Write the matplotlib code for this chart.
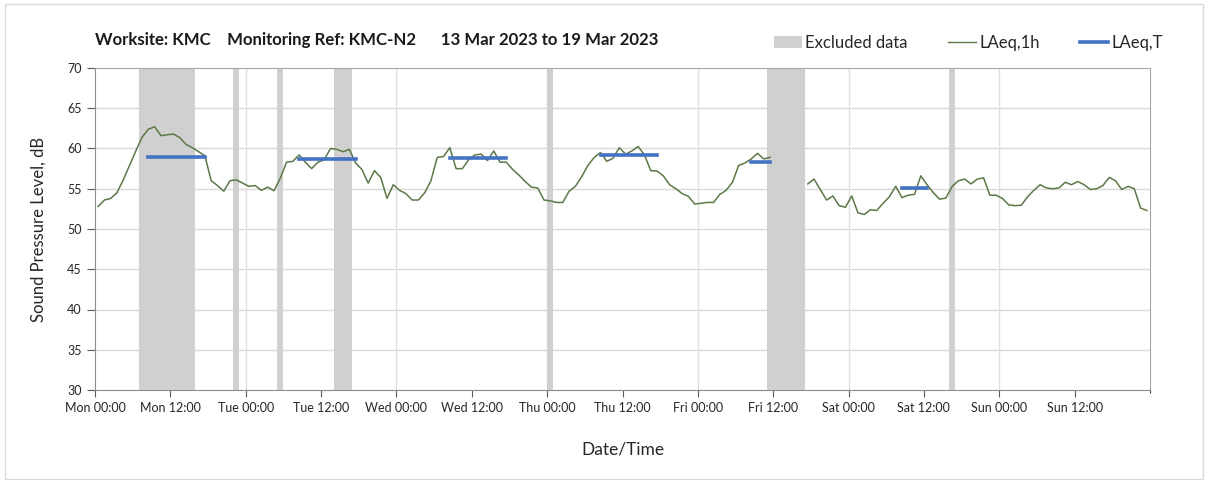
import numpy as np
import matplotlib.pyplot as plt
from matplotlib.patches import Patch, Rectangle
from matplotlib.lines import Line2D

plt.rcParams['font.family'] = ['Lato', 'DejaVu Sans']

# hourly LAeq,1h (Mon 00:00 -> Sun 23:00), NaN = no data
laeq_1h = [52.8, 53.6, 53.8, 54.5, 56.1, 57.9, 59.7, 61.4, 62.4, 62.7,
           61.6, 61.7, 61.8, 61.35, 60.5, 60.1, 59.6, 59.1, 56.0, 55.4,
           54.7, 56.0, 56.1, 55.7, 55.3, 55.4, 54.8, 55.2, 54.75, 56.3,
           58.3, 58.4, 59.2, 58.3, 57.5, 58.3, 58.6, 60.0, 59.9, 59.6,
           59.9, 58.2, 57.4, 55.7, 57.25, 56.4, 53.8, 55.5, 54.8, 54.4,
           53.6, 53.6, 54.5, 56.0, 58.9, 59.0, 60.1, 57.5, 57.5, 58.6,
           59.2, 59.3, 58.5, 59.7, 58.3, 58.3, 57.4, 56.7, 55.9, 55.2,
           55.1, 53.6, 53.5, 53.3, 53.3, 54.7, 55.3, 56.5, 57.9, 58.9,
           59.5, 58.4, 58.8, 60.1, 59.3, 59.7, 60.25, 59.2, 57.25, 57.2,
           56.6, 55.5, 55.0, 54.4, 54.05, 53.1, 53.2, 53.3, 53.3, 54.3,
           54.8, 55.8, 57.9, 58.2, 58.7, 59.4, 58.7, 58.9, np.nan, np.nan,
           np.nan, np.nan, np.nan, 55.6, 56.2, 54.9, 53.6, 54.1, 52.9, 52.7,
           54.1, 52.0, 51.8, 52.4, 52.3, 53.2, 54.0, 55.3, 53.9, 54.2,
           54.3, 56.6, 55.5, 54.5, 53.7, 53.85, 55.3, 56.0, 56.2, 55.6,
           56.2, 56.35, 54.2, 54.2, 53.8, 53.0, 52.9, 52.95, 54.0, 54.8,
           55.5, 55.1, 55.0, 55.1, 55.8, 55.5, 55.9, 55.5, 54.9, 55.0,
           55.4, 56.4, 56.0, 54.9, 55.3, 55.0, 52.6, 52.3]
hours = np.arange(len(laeq_1h)) + 0.5

# LAeq,T periods (hours from Mon 00:00)
laeq_t_start = [8.5, 32.5, 56.5, 80.5, 104.5, 128.5]
laeq_t_end = [17.5, 41.5, 65.5, 89.5, 107.5, 132.5]
laeq_t_level = [59.0, 58.7, 58.8, 59.2, 58.3, 55.1]

# excluded periods (hours)
excl_start = [7, 22, 29, 38, 72, 107, 136]
excl_end = [16, 23, 30, 41, 73, 113, 137]

tick_labels = ['Mon 00:00', 'Mon 12:00', 'Tue 00:00', 'Tue 12:00', 'Wed 00:00',
               'Wed 12:00', 'Thu 00:00', 'Thu 12:00', 'Fri 00:00', 'Fri 12:00',
               'Sat 00:00', 'Sat 12:00', 'Sun 00:00', 'Sun 12:00']

fig = plt.figure(figsize=(12.08, 4.8), dpi=100)
ax = fig.add_axes([95/1208, 90/480, 1055/1208, 322/480])

# outer chart border
fig.patches.append(Rectangle((5/1208, 0.002), 1198/1208, 0.99, transform=fig.transFigure,
                             fill=False, edgecolor='#d9d9d9', lw=1))

for s, e in zip(excl_start, excl_end):
    ax.axvspan(s, e, color='#d0d0d0', lw=0, zorder=1)

ax.plot(hours, laeq_1h, color='#5b7848', lw=1.1, zorder=3)
for s, e, v in zip(laeq_t_start, laeq_t_end, laeq_t_level):
    ax.plot([s, e], [v, v], color='#4472c4', lw=2.6, zorder=4)

ax.set_xlim(0, 168)
ax.set_ylim(30, 70)
ax.set_yticks(np.arange(30, 71, 5))
ax.set_xticks(np.arange(0, 168, 12))
ax.set_xticklabels(tick_labels)
ax.tick_params(axis='both', labelsize=9, colors='#595959', labelcolor='#262626', length=5)
ax.tick_params(axis='y', length=6)
ax.set_xticks(np.arange(0, 169, 24), minor=True)
ax.grid(False)
for y in range(35, 70, 5):
    ax.axhline(y, color='#d9d9d9', lw=1, zorder=0)
for x in range(24, 168, 24):
    ax.axvline(x, color='#e0e0e0', lw=1, zorder=0)
for sp in ax.spines.values():
    sp.set_color('#a6a6a6')
ax.spines['left'].set_color('#8c8c8c')
ax.spines['bottom'].set_color('#8c8c8c')

ax.set_ylabel('Sound Pressure Level, dB', fontsize=12, color='#262626', labelpad=15)
ax.set_xlabel('Date/Time', fontsize=12.5, color='#262626', labelpad=20)

fig.text(95/1208, 1 - 40/480, 'Worksite: KMC    Monitoring Ref: KMC-N2      13 Mar 2023 to 19 Mar 2023',
         fontsize=12.1, fontweight='bold', color='#1a1a1a', va='center')

handles = [Patch(facecolor='#d0d0d0', edgecolor='none', label='Excluded data'),
           Line2D([], [], color='#5b7848', lw=1, label='LAeq,1h'),
           Line2D([], [], color='#4472c4', lw=2.6, label='LAeq,T')]
fig.legend(handles=handles, loc='center right', bbox_to_anchor=(1178/1208, 1 - 43/480), ncol=3,
           frameon=False, fontsize=12, handlelength=1.7, handletextpad=0.2, columnspacing=2.4,
           labelcolor='#262626')

fig.savefig('out.png', dpi=100)
